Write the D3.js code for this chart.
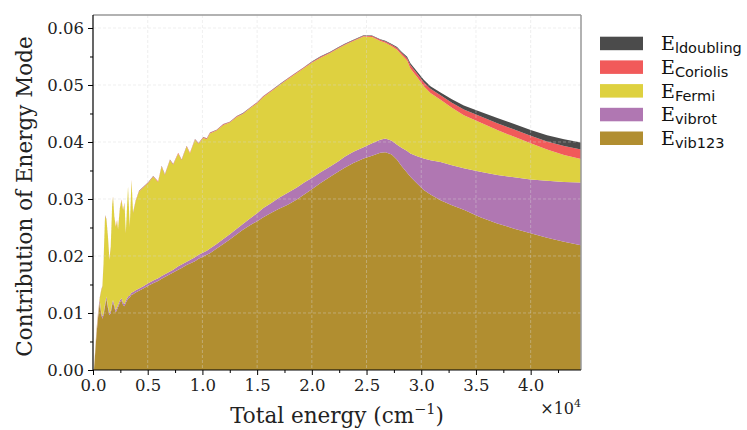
<!DOCTYPE html>
<html><head><meta charset="utf-8">
<script src="https://cdn.jsdelivr.net/npm/d3@7"></script>
<style>body{margin:0;background:#fff}svg{display:block}</style>
</head><body>
<svg id="chart" width="747" height="430"></svg>
<script>
// ---- data ----
const energy = [100,310,450,610,760,860,960,1100,1230,1370,
  1500,1620,1750,1830,1950,2080,2200,2290,2450,2600,
  2750,2880,3000,3200,3360,3520,3660,3900,4210,4600,
  5040,5500,5950,6270,6570,7030,7330,7790,8100,8560,
  8860,9320,9650,10080,10400,10690,11300,11910,12500,13140,
  13700,14350,15000,15570,16300,17000,17800,18630,19300,20000,
  20800,21680,22400,23000,23800,24730,25500,26260,26720,27300,
  27790,28200,28710,29010,29620,30230,30840,31760,32800,33890,
  35400,36950,38500,40000,41500,43050,44600];
const vib123 = [.0003,.0060,.0090,.0118,.0097,.0090,.0096,.0112,.0125,.0108,
  .0096,.0100,.0114,.0119,.0110,.0101,.0106,.0110,.0118,.0122,
  .0114,.0112,.0118,.0125,.0127,.0132,.0133,.0136,.0139,.0143,
  .0148,.0152,.0156,.0160,.0163,.0168,.0171,.0176,.0179,.0184,
  .0187,.0191,.0195,.0199,.0202,.0205,.0213,.0221,.0229,.0238,
  .0246,.0254,.0261,.0268,.0276,.0283,.0290,.0299,.0308,.0317,
  .0328,.0339,.0348,.0355,.0363,.0371,.0376,.0381,.0382,.0378,
  .0369,.0358,.0346,.0339,.0327,.0316,.0308,.0298,.0289,.0281,
  .0268,.0257,.0248,.0240,.0232,.0225,.0219];
const vibrot = [.0001,.0004,.0004,.0005,.0004,.0004,.0004,.0004,.0004,.0004,
  .0004,.0004,.0004,.0004,.0004,.0004,.0004,.0004,.0004,.0004,
  .0004,.0004,.0004,.0004,.0004,.0004,.0004,.0004,.0004,.0004,
  .0004,.0005,.0005,.0005,.0005,.0005,.0005,.0006,.0006,.0006,
  .0006,.0007,.0007,.0007,.0007,.0008,.0008,.0009,.0009,.0010,
  .0010,.0012,.0014,.0016,.0017,.0019,.0021,.0021,.0021,.0020,
  .0019,.0018,.0018,.0019,.0020,.0020,.0022,.0023,.0024,.0024,
  .0026,.0032,.0038,.0041,.0048,.0055,.0060,.0067,.0070,.0073,
  .0080,.0085,.0090,.0094,.0100,.0105,.0110];
const fermi = [.0001,.0004,.0004,.0002,.0039,.0052,.0085,.0154,.0134,.0120,
  .0093,.0111,.0170,.0181,.0154,.0146,.0152,.0132,.0160,.0172,
  .0162,.0176,.0118,.0193,.0120,.0197,.0138,.0156,.0170,.0173,
  .0176,.0182,.0169,.0192,.0174,.0195,.0184,.0198,.0183,.0202,
  .0187,.0206,.0195,.0201,.0196,.0202,.0199,.0200,.0196,.0196,
  .0193,.0193,.0193,.0195,.0196,.0197,.0199,.0201,.0201,.0202,
  .0201,.0199,.0198,.0196,.0194,.0194,.0186,.0173,.0168,.0166,
  .0167,.0163,.0159,.0149,.0139,.0127,.0118,.0109,.0101,.0093,
  .0086,.0079,.0071,.0064,.0055,.0047,.0041];
const coriolis = [0,.0001,.0001,.0001,.0001,.0001,.0001,.0001,.0001,.0001,
  .0001,.0001,.0001,.0001,.0001,.0001,.0001,.0001,.0001,.0001,
  .0001,.0001,.0001,.0001,.0001,.0001,.0001,.0001,.0001,.0001,
  .0001,.0001,.0001,.0001,.0001,.0001,.0001,.0001,.0001,.0001,
  .0001,.0001,.0001,.00012,.00012,.00012,.00012,.00012,.00012,.00012,
  .00012,.00012,.00012,.00012,.00012,.00012,.00012,.00012,.00012,.00015,
  .00015,.00015,.00015,.00015,.00015,.00015,.0002,.00022,.00025,.00028,
  .0003,.00035,.0004,.0006,.0006,.0007,.00075,.0008,.0009,.0010,
  .0011,.0012,.0013,.0013,.0014,.0016,.0017];
const ldoubling = [0,.00003,.00003,.00003,.00003,.00003,.00003,.00003,.00003,.00003,
  .00003,.00003,.00003,.00003,.00003,.00003,.00003,.00003,.00003,.00003,
  .00003,.00003,.00003,.00003,.00003,.00003,.00003,.00003,.00003,.00003,
  .00003,.00003,.00003,.00003,.00003,.00003,.00003,.00003,.00003,.00003,
  .00003,.00003,.00003,.00005,.00005,.00005,.00005,.00005,.00005,.00005,
  .00005,.00005,.00005,.00005,.00005,.00005,.00005,.00005,.00005,.00008,
  .00008,.00008,.00008,.00008,.00008,.00008,.0001,.00011,.00012,.00013,
  .00015,.0002,.00025,.0003,.00035,.0004,.00045,.0005,.0006,.0007,
  .0008,.0009,.00095,.0010,.0011,.0012,.0012];

const seriesKeys = ["vib123","vibrot","Fermi","Coriolis","ldoubling"];
const seriesColors = ["#b18e30","#b077b2","#ded140","#f15a5a","#4b4b4b"];
const yTicks = [0,0.01,0.02,0.03,0.04,0.05,0.06];
const yMinorTicks = [0.005,0.015,0.025,0.035,0.045,0.055];
const xTicks = [0,5000,10000,15000,20000,25000,30000,35000,40000];
const xMinorTicks = [2500,7500,12500,17500,22500,27500,32500,37500,42500];
const xLabel = "Total energy (cm";
const yLabel = "Contribution of Energy Mode";

// ---- layout ----
const L = 93, R = 581, T = 15, B = 370;
const svg = d3.select("#chart");
const x = d3.scaleLinear().domain([0, 44600]).range([L, R]);
const y = d3.scaleLinear().domain([0, 0.06228]).range([B, T]);

const table = energy.map((e, i) => ({
  e, vib123: vib123[i], vibrot: vibrot[i], Fermi: fermi[i],
  Coriolis: coriolis[i], ldoubling: ldoubling[i]
}));
const stacked = d3.stack().keys(seriesKeys)(table);

const area = d3.area()
  .x(d => x(d.data.e))
  .y0(d => y(d[0]))
  .y1(d => y(d[1]));

svg.append("defs").append("clipPath").attr("id","clip")
  .append("rect").attr("x",L).attr("y",T).attr("width",R-L).attr("height",B-T);

svg.append("g").attr("clip-path","url(#clip)")
  .selectAll("path").data(stacked).join("path")
  .attr("d", area)
  .attr("fill", (d,i) => seriesColors[i]);

// grid
const grid = svg.append("g").attr("stroke","#d8d8d8").attr("stroke-opacity",0.5)
  .attr("stroke-dasharray","3,2").attr("stroke-width",0.8);
grid.selectAll(".gy").data(yTicks.slice(1)).join("line")
  .attr("x1",L).attr("x2",R).attr("y1",d=>y(d)).attr("y2",d=>y(d));
grid.selectAll(".gx").data(xTicks.slice(1)).join("line")
  .attr("y1",T).attr("y2",B).attr("x1",d=>x(d)).attr("x2",d=>x(d));

// frame
svg.append("line").attr("x1",L).attr("x2",R).attr("y1",T).attr("y2",T).attr("stroke","#999").attr("stroke-width",1.5);
svg.append("line").attr("x1",R).attr("x2",R).attr("y1",T).attr("y2",B).attr("stroke","#999").attr("stroke-width",1.5);

// axes
const tickFont = "DejaVu Serif";
const yAxis = svg.append("g").attr("transform",`translate(${L},0)`)
  .call(d3.axisLeft(y).tickValues(yTicks).tickFormat(d3.format(".2f")).tickSize(5).tickPadding(4));
svg.append("g").attr("transform",`translate(${L},0)`)
  .call(d3.axisLeft(y).tickValues(yMinorTicks).tickFormat("").tickSize(3).tickSizeOuter(0))
  .select(".domain").remove();
const xAxis = svg.append("g").attr("transform",`translate(0,${B})`)
  .call(d3.axisBottom(x).tickValues(xTicks).tickFormat(d => (d/1e4).toFixed(1)).tickSize(5).tickPadding(4));
svg.append("g").attr("transform",`translate(0,${B})`)
  .call(d3.axisBottom(x).tickValues(xMinorTicks).tickFormat("").tickSize(3).tickSizeOuter(0))
  .select(".domain").remove();
[yAxis, xAxis].forEach(g => {
  g.select(".domain").attr("d", g === yAxis ? `M0,${T}V${B}` : `M${L},0H${R}`).attr("stroke","#000").attr("stroke-width",1.2);
});
svg.selectAll(".tick line").attr("stroke","#000");
svg.selectAll(".tick text").attr("font-family",tickFont).attr("font-size",16.5).attr("fill","#222");

// offset text
const off = svg.append("text").attr("x",R).attr("y",414).attr("text-anchor","end")
  .attr("font-family",tickFont).attr("font-size",16).attr("fill","#222");
off.append("tspan").text("\u00d710");
off.append("tspan").attr("font-size",11).attr("dy",-7).text("4");

// axis labels
const xl = svg.append("text").attr("x",(L+R)/2).attr("y",423).attr("text-anchor","middle")
  .attr("font-family",tickFont).attr("font-size",21.5).attr("fill","#222");
xl.append("tspan").text(xLabel);
xl.append("tspan").attr("font-size",14.5).attr("dy",-9).text("\u22121");
xl.append("tspan").attr("dy",9).text(")");

svg.append("text").attr("transform",`translate(32,${(T+B)/2+4}) rotate(-90)`)
  .attr("text-anchor","middle").attr("font-family",tickFont).attr("font-size",21.5)
  .attr("fill","#222").text(yLabel);

// legend
const legOrder = [4,3,2,1,0];
const leg = svg.append("g");
legOrder.forEach((si, k) => {
  const top = 36.7 + k*23.7;
  leg.append("rect").attr("x",600).attr("y",top).attr("width",43).attr("height",13.5)
    .attr("fill",seriesColors[si]);
  const t = leg.append("text").attr("x",661).attr("y",top+13.5)
    .attr("font-family",tickFont).attr("font-size",19).attr("fill","#111");
  t.append("tspan").text("E");
  t.append("tspan").attr("font-family","DejaVu Sans").attr("font-size",14.5).attr("dy",3).text(seriesKeys[si]);
});
</script>
</body></html>
